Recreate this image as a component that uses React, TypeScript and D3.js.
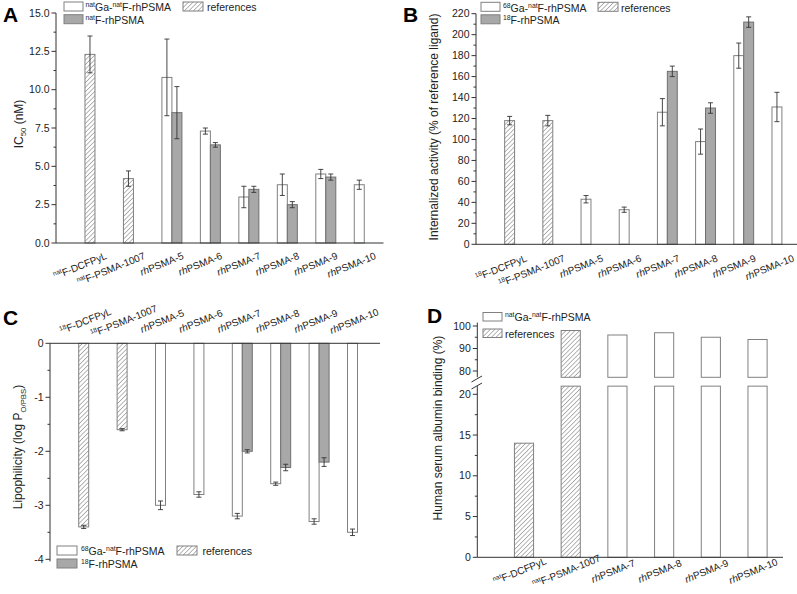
import React from "react";
import * as d3 from "d3";

const FONT = "'Liberation Sans', Arial, Helvetica, sans-serif";
const GRAY = "#a8a8a8";

// ---------- categories ----------
const catsA = ["[nat]F-DCFPyL", "[nat]F-PSMA-1007", "{rh}PSMA-5", "{rh}PSMA-6", "{rh}PSMA-7", "{rh}PSMA-8", "{rh}PSMA-9", "{rh}PSMA-10"];
const catsBC = ["[18]F-DCFPyL", "[18]F-PSMA-1007", "{rh}PSMA-5", "{rh}PSMA-6", "{rh}PSMA-7", "{rh}PSMA-8", "{rh}PSMA-9", "{rh}PSMA-10"];
const catsD = ["[nat]F-DCFPyL", "[nat]F-PSMA-1007", "{rh}PSMA-7", "{rh}PSMA-8", "{rh}PSMA-9", "{rh}PSMA-10"];
const isRef8 = [true, true, false, false, false, false, false, false];
const isRefD = [true, true, false, false, false, false];

// ---------- A: IC50 ----------
const ic50Ga = [12.3, 4.2, 10.8, 7.3, 3.0, 3.8, 4.5, 3.8];
const ic50GaErr = [1.2, 0.5, 2.5, 0.2, 0.7, 0.7, 0.3, 0.3];
const ic50F = [null, null, 8.5, 6.4, 3.5, 2.5, 4.3, null];
const ic50FErr = [null, null, 1.7, 0.15, 0.2, 0.2, 0.2, null];

// ---------- B: internalization ----------
const intGa = [118, 118, 43, 33, 126, 98, 180, 131];
const intGaErr = [4, 5, 3.5, 2.5, 13, 12, 12, 14];
const intF = [null, null, null, null, 165, 130, 212, null];
const intFErr = [null, null, null, null, 5, 5, 5, null];

// ---------- C: lipophilicity ----------
const logPGa = [-3.4, -1.6, -3.0, -2.8, -3.2, -2.6, -3.3, -3.5];
const logPGaErr = [0.03, 0.02, 0.08, 0.05, 0.05, 0.03, 0.05, 0.06];
const logPF = [null, null, null, null, -2.0, -2.3, -2.2, null];
const logPFErr = [null, null, null, null, 0.03, 0.06, 0.08, null];

// ---------- D: HSA binding ----------
const hsaGa = [14, 98, 96, 97, 95, 94];

// ---------- ticks ----------
const ticksA = [0, 2.5, 5, 7.5, 10, 12.5, 15];
const ticksB = [0, 20, 40, 60, 80, 100, 120, 140, 160, 180, 200, 220];
const ticksC = [0, -1, -2, -3, -4];
const ticksDLow = [0, 5, 10, 15, 20];
const ticksDHigh = [80, 90, 100];

// ---------- legend / axis labels ----------
const legGaNat = "[nat]Ga-[nat]F-rhPSMA";
const legFNat = "[nat]F-rhPSMA";
const legGa68 = "[68]Ga-[nat]F-rhPSMA";
const legF18 = "[18]F-rhPSMA";
const legRef = "references";
const titleA = "IC_(50) (nM)";
const titleB = "Internalized activity (% of reference ligand)";
const titleC = "Lipophilicity (log P_(O/PBS))";
const titleD = "Human serum albumin binding (%)";

type Part = { t: string; k: "n" | "sup" | "sub" | "it" };
function parse(s: string): Part[] {
  const re = /\[([^\]]+)\]|\{([^}]+)\}|_\(([^)]+)\)|([^\[\{_]+)/g;
  const out: Part[] = [];
  let m: RegExpExecArray | null;
  while ((m = re.exec(s))) {
    if (m[1]) out.push({ t: m[1], k: "sup" });
    else if (m[2]) out.push({ t: m[2], k: "it" });
    else if (m[3]) out.push({ t: m[3], k: "sub" });
    else if (m[4]) out.push({ t: m[4], k: "n" });
  }
  return out;
}

function Rich({ text, fs }: { text: string; fs: number }) {
  let shift = 0;
  const parts = parse(text);
  const nodes = parts.map((p, i) => {
    const target = p.k === "sup" ? -fs * 0.38 : p.k === "sub" ? fs * 0.3 : 0;
    const dy = target - shift;
    shift = target;
    const small = p.k === "sup" || p.k === "sub";
    return (
      <tspan key={i} dy={dy} fontSize={small ? fs * 0.65 : fs} fontStyle={p.k === "it" ? "italic" : undefined}>
        {p.t}
      </tspan>
    );
  });
  if (shift !== 0) nodes.push(<tspan key="end" dy={-shift}>{""}</tspan>);
  return <>{nodes}</>;
}

function YAxis({ scale, x, majors, minors, fmt, top, bottom }: any) {
  return (
    <g>
      <line x1={x} x2={x} y1={top} y2={bottom} stroke="#333" strokeWidth={1} />
      {minors.map((v: number) => (
        <line key={"m" + v} x1={x - 2.5} x2={x} y1={scale(v)} y2={scale(v)} stroke="#333" />
      ))}
      {majors.map((v: number) => (
        <g key={"M" + v}>
          <line x1={x - 4.5} x2={x} y1={scale(v)} y2={scale(v)} stroke="#333" />
          <text x={x - 6.5} y={scale(v)} dy="0.35em" textAnchor="end" fontSize={10.5} fill="#222">
            {fmt(v)}
          </text>
        </g>
      ))}
    </g>
  );
}

function Bars({ xS, yS, vals, errs, refs, slot, gray, bw }: any) {
  return (
    <g>
      {vals.map((v: number | null, i: number) => {
        if (v == null) return null;
        const c = xS(i + 1);
        const x = slot === 0 ? c - bw : c;
        const y0 = yS(0), y1 = yS(v);
        const fill = refs[i] ? "url(#hatch)" : gray ? GRAY : "#fff";
        return (
          <rect key={i} x={x} y={Math.min(y0, y1)} width={bw} height={Math.abs(y1 - y0)} fill={fill}
            stroke={gray ? "#707070" : "#808080"} strokeWidth={1} />
        );
      })}
      {vals.map((v: number | null, i: number) => {
        if (v == null || errs[i] == null) return null;
        const c = xS(i + 1);
        const ex = (slot === 0 ? c - bw : c) + bw / 2;
        const ya = yS(v - errs[i]), yb = yS(v + errs[i]);
        return (
          <g key={"e" + i} stroke="#333" strokeWidth={0.9}>
            <line x1={ex} x2={ex} y1={ya} y2={yb} />
            <line x1={ex - 2.5} x2={ex + 2.5} y1={ya} y2={ya} />
            <line x1={ex - 2.5} x2={ex + 2.5} y1={yb} y2={yb} />
          </g>
        );
      })}
    </g>
  );
}

function XLabels({ xS, cats, y, dx, anchor, fs = 10, angle = -22 }: any) {
  return (
    <g>
      {cats.map((c: string, i: number) => (
        <text key={i} transform={`translate(${xS(i + 1) + dx},${y}) rotate(${angle})`} textAnchor={anchor}
          fontSize={fs} fill="#222">
          <Rich text={c} fs={fs} />
        </text>
      ))}
    </g>
  );
}

function LegItem({ x, y, w, h, fill, label, tx, ty }: any) {
  return (
    <g>
      <rect x={x} y={y} width={w} height={h} fill={fill} stroke="#808080" strokeWidth={1} />
      <text x={tx} y={ty} fontSize={10.5} fill="#222">
        <Rich text={label} fs={10.5} />
      </text>
    </g>
  );
}

function YTitle({ x, y, text }: any) {
  return (
    <text transform={`translate(${x},${y}) rotate(-90)`} textAnchor="middle" fontSize={12} fill="#222">
      <Rich text={text} fs={12} />
    </text>
  );
}

export default function App() {
  // Panel A
  const xA = d3.scaleLinear().domain([0, 8.5]).range([56.5, 383.5]);
  const yA = d3.scaleLinear().domain([0, 15]).range([243, 13]);
  const bwA = (xA(1) - xA(0)) * 0.26;
  // Panel B
  const xB = d3.scaleLinear().domain([0, 8.5]).range([476.4, 801]);
  const yB = d3.scaleLinear().domain([0, 220]).range([244.3, 13.7]);
  const bwB = (xB(1) - xB(0)) * 0.26;
  // Panel C
  const xC = d3.scaleLinear().domain([0, 8.5]).range([50.3, 376.7]);
  const yC = d3.scaleLinear().domain([0, -4]).range([343.3, 559.3]);
  const bwC = (xC(1) - xC(0)) * 0.26;
  // Panel D
  const xD = d3.scaleLinear().domain([0, 6.5]).range([477.3, 780.9]);
  const yDL = d3.scaleLinear().domain([0, 20]).range([557.3, 394.3]);
  const yDH = d3.scaleLinear().domain([80, 100]).range([371, 326]);
  const bwD = (xD(1) - xD(0)) * 0.41;
  const lowTop = 21, highBot = 77.2;

  const f1 = d3.format(".1f");
  const f0 = (v: number) => String(v);

  return (
    <svg width={797} height={594} style={{ position: "absolute", left: 0, top: 0, background: "#fff" }}
      fontFamily={FONT}>
      <defs>
        <pattern id="hatch" patternUnits="userSpaceOnUse" width={3.2} height={3.2} patternTransform="rotate(45)">
          <rect width={3.2} height={3.2} fill="#fff" />
          <line x1={0} y1={0} x2={0} y2={3.2} stroke="#6e6e6e" strokeWidth={1} />
        </pattern>
      </defs>
      <rect width={797} height={594} fill="#fff" />

      {/* ===== Panel A ===== */}
      <text x={3} y={22} fontSize={21} fontWeight="bold">A</text>
      <Bars xS={xA} yS={yA} vals={ic50Ga} errs={ic50GaErr} refs={isRef8} slot={0} gray={false} bw={bwA} />
      <Bars xS={xA} yS={yA} vals={ic50F} errs={ic50FErr} refs={[]} slot={1} gray={true} bw={bwA} />
      <YAxis scale={yA} x={56} majors={ticksA} minors={d3.range(1.25, 15, 2.5)} fmt={f1} top={yA(15)} bottom={yA(0)} />
      <line x1={56} x2={383.5} y1={yA(0)} y2={yA(0)} stroke="#333" />
      <XLabels xS={xA} cats={catsA} y={yA(0) + 15.5} dx={12.5} anchor="end" />
      <YTitle x={22.5} y={124} text={titleA} />
      <LegItem x={64} y={2} w={19} h={9} fill="#fff" label={legGaNat} tx={85.5} ty={11} />
      <LegItem x={64} y={14.7} w={19} h={9} fill={GRAY} label={legFNat} tx={85.5} ty={24} />
      <LegItem x={183} y={2} w={20} h={9} fill="url(#hatch)" label={legRef} tx={207} ty={11} />

      {/* ===== Panel B ===== */}
      <text x={403} y={22} fontSize={21} fontWeight="bold">B</text>
      <Bars xS={xB} yS={yB} vals={intGa} errs={intGaErr} refs={isRef8} slot={0} gray={false} bw={bwB} />
      <Bars xS={xB} yS={yB} vals={intF} errs={intFErr} refs={[]} slot={1} gray={true} bw={bwB} />
      <YAxis scale={yB} x={476} majors={ticksB} minors={d3.range(10, 220, 20)} fmt={f0} top={yB(220)} bottom={yB(0)} />
      <line x1={476} x2={797} y1={yB(0)} y2={yB(0)} stroke="#333" />
      <XLabels xS={xB} cats={catsBC} y={yB(0) + 16.5} dx={13} anchor="end" />
      <YTitle x={437.5} y={127} text={titleB} />
      <LegItem x={481} y={2.3} w={19} h={9} fill="#fff" label={legGa68} tx={503} ty={11.5} />
      <LegItem x={481} y={14.8} w={19} h={9} fill={GRAY} label={legF18} tx={503} ty={24} />
      <LegItem x={598} y={2.3} w={20} h={9} fill="url(#hatch)" label={legRef} tx={621} ty={11.5} />

      {/* ===== Panel C ===== */}
      <text x={3} y={325} fontSize={21} fontWeight="bold">C</text>
      <Bars xS={xC} yS={yC} vals={logPGa} errs={logPGaErr} refs={isRef8} slot={0} gray={false} bw={bwC} />
      <Bars xS={xC} yS={yC} vals={logPF} errs={logPFErr} refs={[]} slot={1} gray={true} bw={bwC} />
      <YAxis scale={yC} x={50} majors={ticksC} minors={d3.range(-0.5, -4, -1)} fmt={f0} top={yC(0)} bottom={yC(-4.04)} />
      <line x1={50} x2={380} y1={yC(0)} y2={yC(0)} stroke="#333" />
      <XLabels xS={xC} cats={catsBC} y={yC(0) - 19} dx={-2} anchor="middle" />
      <YTitle x={22} y={447} text={titleC} />
      <LegItem x={57} y={546} w={20} h={9} fill="#fff" label={legGa68} tx={81} ty={554.5} />
      <LegItem x={57} y={559} w={20} h={9} fill={GRAY} label={legF18} tx={81} ty={567.5} />
      <LegItem x={177} y={546} w={20} h={9} fill="url(#hatch)" label={legRef} tx={202.5} ty={554.5} />

      {/* ===== Panel D ===== */}
      <text x={427} y={323} fontSize={21} fontWeight="bold">D</text>
      {hsaGa.map((v, i) => {
        const x = xD(i + 1) - bwD / 2;
        const fill = isRefD[i] ? "url(#hatch)" : "#fff";
        const lowV = Math.min(v, lowTop);
        return (
          <g key={i} stroke="#808080" strokeWidth={1} fill={fill}>
            <rect x={x} y={yDL(lowV)} width={bwD} height={yDL(0) - yDL(lowV)} />
            {v > lowTop && <rect x={x} y={yDH(v)} width={bwD} height={yDH(highBot) - yDH(v)} />}
          </g>
        );
      })}
      <YAxis scale={yDL} x={477.3} majors={ticksDLow} minors={d3.range(2.5, 21, 5)} fmt={f0} top={yDL(lowTop)} bottom={yDL(0)} />
      <YAxis scale={yDH} x={477.3} majors={ticksDHigh} minors={[85, 95]} fmt={f0} top={yDH(101.5)} bottom={yDH(highBot)} />
      <line x1={471.5} y1={382} x2={482} y2={376} stroke="#333" />
      <line x1={471.5} y1={389} x2={482} y2={383} stroke="#333" />
      <line x1={477.3} x2={783} y1={yDL(0)} y2={yDL(0)} stroke="#333" />
      <XLabels xS={xD} cats={catsD} y={yDL(0) + 17} dx={-3} anchor="middle" />
      <YTitle x={442} y={428} text={titleD} />
      <LegItem x={483} y={312.5} w={19} h={8.5} fill="#fff" label={legGaNat} tx={505} ty={321} />
      <LegItem x={483} y={329} w={19} h={8.5} fill="url(#hatch)" label={legRef} tx={505} ty={337.5} />
    </svg>
  );
}
